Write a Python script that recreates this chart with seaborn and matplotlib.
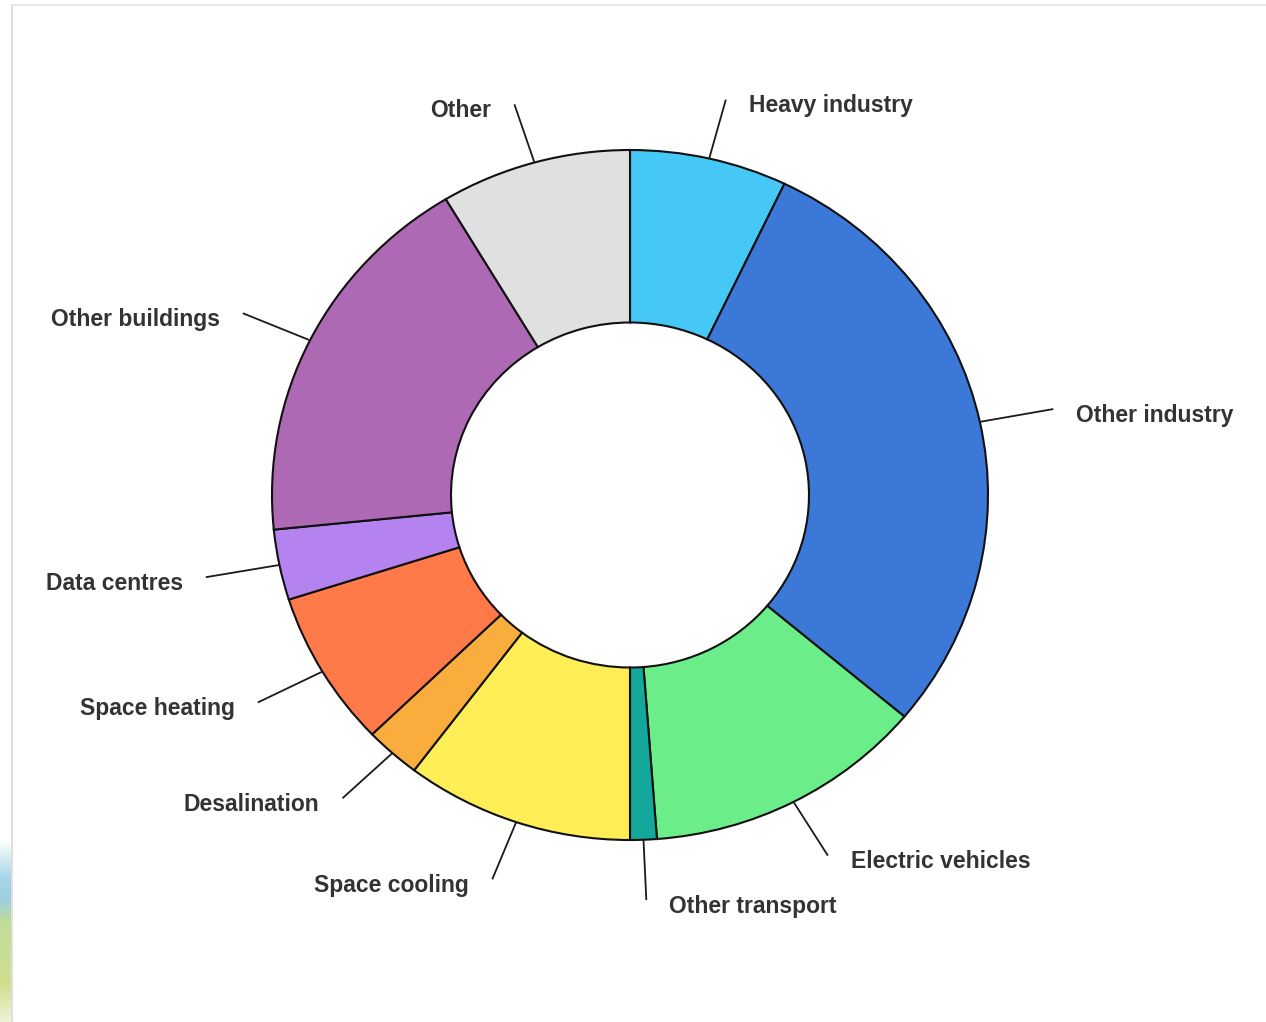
import numpy as np
import matplotlib
matplotlib.use("Agg")
import matplotlib.pyplot as plt
from matplotlib.colors import LinearSegmentedColormap
import seaborn as sns

# ---- data (shares, %), clockwise from 12 o'clock ----
categories = ["Heavy industry", "Other industry", "Electric vehicles", "Other transport",
              "Space cooling", "Desalination", "Space heating", "Data centres",
              "Other buildings", "Other"]
shares = [7.1, 29.0, 12.7, 1.2, 10.3, 2.5, 7.3, 3.3, 18.0, 8.6]
colors = ["#45C8F5", "#3C78D8", "#6BEE8A", "#13A89B", "#FFEE55",
          "#F9AD3D", "#FF7A48", "#B583F0", "#AD69B3", "#E0E0E0"]

sns.set_theme(style="white")
plt.rcParams["font.family"] = ["Liberation Sans", "DejaVu Sans"]

W, H = 1266, 1022
fig = plt.figure(figsize=(W / 100, H / 100), dpi=100)
fig.patch.set_facecolor("white")

# pixel geometry of the donut
cx, cy, rx, ry = 630, 495, 358, 345
ax = fig.add_axes([0, 0, 1, 1])
wedges, _ = ax.pie(shares, colors=colors, startangle=90, counterclock=False,
                   radius=1.0,
                   wedgeprops=dict(width=0.5, edgecolor="#111111", linewidth=1.5))
ax.set_aspect("auto")
ax.set_xlim(-cx / rx, (W - cx) / rx)
ax.set_ylim((cy - H) / ry, cy / ry)
ax.axis("off")

# leader lines and labels
gap_x = 23 / rx
for w, lab in zip(wedges, categories):
    ang = np.deg2rad((w.theta1 + w.theta2) / 2)
    x0, y0 = np.cos(ang), np.sin(ang)
    x1, y1 = 1.21 * x0, 1.175 * y0
    ax.plot([x0, x1], [y0, y1], color="#1a1a1a", lw=1.3, solid_capstyle="butt")
    if x1 >= 0:
        tx, ha = x1 + gap_x, "left"
    else:
        tx, ha = x1 - gap_x, "right"
    ax.text(tx, y1 - 12.5 / ry, lab, ha=ha, va="baseline", fontsize=16.5,
            fontweight="bold", color="#333333")

# faint frame of the original screenshot
fig.add_artist(plt.Line2D([12 / W, 12 / W], [0, 1 - 5 / H], transform=fig.transFigure,
                          color="#d9d9d9", lw=1.2))
fig.add_artist(plt.Line2D([12 / W, 1], [1 - 5 / H, 1 - 5 / H], transform=fig.transFigure,
                          color="#e6e6e6", lw=1.2))

# gradient strip bottom-left
gax = fig.add_axes([0, 0, 11 / W, 182 / H])
cmap = LinearSegmentedColormap.from_list(
    "strip", [(0.0, "#ffffff"), (0.2, "#a9d6e6"), (0.33, "#9ccfe0"),
              (0.45, "#c2dc98"), (0.8, "#cfe08e"), (1.0, "#f2f2d8")])
grad = np.linspace(0, 1, 200).reshape(-1, 1)
gax.imshow(grad, aspect="auto", cmap=cmap, origin="upper")
gax.axis("off")

fig.savefig("out.png", dpi=100, facecolor="white")
